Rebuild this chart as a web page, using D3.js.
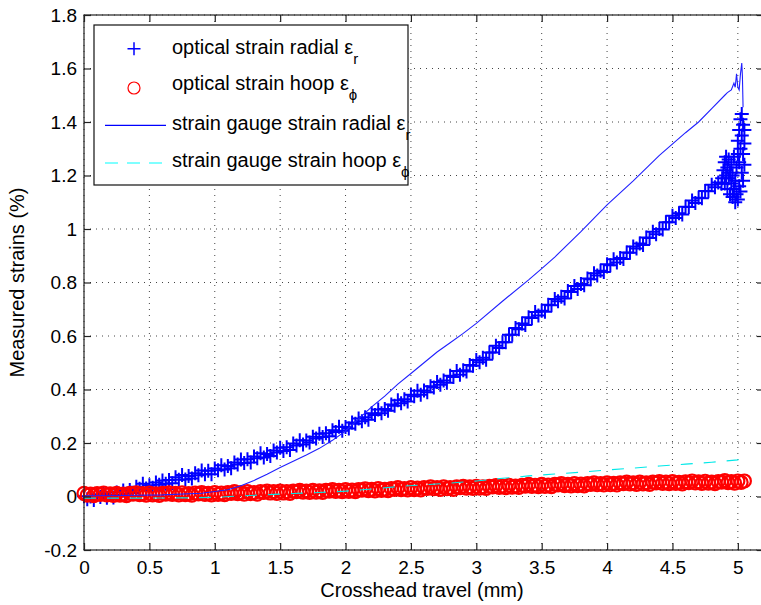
<!DOCTYPE html>
<html>
<head>
<meta charset="utf-8">
<script src="https://cdn.jsdelivr.net/npm/d3@7"></script>
<style>
  body { margin: 0; background: #fff; }
  svg text { font-family: Arial, "Liberation Sans", Helvetica, sans-serif; fill: #000; }
</style>
</head>
<body>
<div id="chart"></div>
<script>
// optical measurements (DIC), crosshead travel in mm
const opticalTravel = [
  0, 0.025, 0.05, 0.075, 0.1, 0.125, 0.15, 0.175, 0.2, 0.225, 0.25, 0.275, 0.3, 0.325, 0.35, 0.375, 0.4, 0.425, 0.45, 0.475,
  0.5, 0.525, 0.55, 0.575, 0.6, 0.625, 0.65, 0.675, 0.7, 0.725, 0.75, 0.775, 0.8, 0.825, 0.85, 0.875, 0.9, 0.925, 0.95, 0.975,
  1, 1.025, 1.05, 1.075, 1.1, 1.125, 1.15, 1.175, 1.2, 1.225, 1.25, 1.275, 1.3, 1.325, 1.35, 1.375, 1.4, 1.425, 1.45, 1.475,
  1.5, 1.525, 1.55, 1.575, 1.6, 1.625, 1.65, 1.675, 1.7, 1.725, 1.75, 1.775, 1.8, 1.825, 1.85, 1.875, 1.9, 1.925, 1.95, 1.975,
  2, 2.025, 2.05, 2.075, 2.1, 2.125, 2.15, 2.175, 2.2, 2.225, 2.25, 2.275, 2.3, 2.325, 2.35, 2.375, 2.4, 2.425, 2.45, 2.475,
  2.5, 2.525, 2.55, 2.575, 2.6, 2.625, 2.65, 2.675, 2.7, 2.725, 2.75, 2.775, 2.8, 2.825, 2.85, 2.875, 2.9, 2.925, 2.95, 2.975,
  3, 3.025, 3.05, 3.075, 3.1, 3.125, 3.15, 3.175, 3.2, 3.225, 3.25, 3.275, 3.3, 3.325, 3.35, 3.375, 3.4, 3.425, 3.45, 3.475,
  3.5, 3.525, 3.55, 3.575, 3.6, 3.625, 3.65, 3.675, 3.7, 3.725, 3.75, 3.775, 3.8, 3.825, 3.85, 3.875, 3.9, 3.925, 3.95, 3.975,
  4, 4.025, 4.05, 4.075, 4.1, 4.125, 4.15, 4.175, 4.2, 4.225, 4.25, 4.275, 4.3, 4.325, 4.35, 4.375, 4.4, 4.425, 4.45, 4.475,
  4.5, 4.525, 4.55, 4.575, 4.6, 4.625, 4.65, 4.675, 4.7, 4.725, 4.75, 4.775, 4.8, 4.825, 4.85, 4.875, 4.9, 4.925, 4.95, 4.975,
  5, 5.025, 5.05];

// radial strain (%), read up to 4.875 mm
const opticalRadial = [
  0.001, -0.0105, 0, -0.013, 0.008, -0.002, 0.012, -0.005, 0.006, -0.004, 0.015, 0.006, 0.022, 0.01, 0.024, 0.013, 0.036, 0.029, 0.048, 0.03,
  0.042, 0.0325, 0.052, 0.0435, 0.06, 0.048, 0.062, 0.05, 0.072, 0.063, 0.08, 0.0635, 0.077, 0.0675, 0.087, 0.0795, 0.097, 0.0835, 0.096, 0.0835,
  0.105, 0.098, 0.117, 0.1005, 0.114, 0.106, 0.127, 0.12, 0.138, 0.1255, 0.139, 0.1275, 0.15, 0.143, 0.162, 0.1455, 0.159, 0.151, 0.172, 0.1645,
  0.182, 0.17, 0.184, 0.174, 0.198, 0.191, 0.21, 0.1945, 0.209, 0.2015, 0.223, 0.2165, 0.235, 0.2225, 0.236, 0.225, 0.248, 0.2415, 0.261, 0.2455,
  0.26, 0.254, 0.277, 0.272, 0.292, 0.281, 0.296, 0.2865, 0.311, 0.305, 0.325, 0.311, 0.327, 0.321, 0.344, 0.3395, 0.36, 0.349, 0.364, 0.355,
  0.38, 0.3745, 0.395, 0.3805, 0.396, 0.3895, 0.412, 0.4075, 0.428, 0.418, 0.434, 0.4255, 0.451, 0.447, 0.469, 0.4555, 0.472, 0.4675, 0.492, 0.4885,
  0.51, 0.5015, 0.519, 0.5115, 0.538, 0.538, 0.564, 0.5555, 0.577, 0.5765, 0.605, 0.605, 0.63, 0.6255, 0.647, 0.6415, 0.67, 0.667, 0.69, 0.677,
  0.694, 0.691, 0.717, 0.715, 0.738, 0.7295, 0.747, 0.7405, 0.768, 0.7645, 0.787, 0.7755, 0.794, 0.79, 0.815, 0.8125, 0.835, 0.8265, 0.844, 0.839,
  0.868, 0.8645, 0.887, 0.8745, 0.892, 0.8875, 0.912, 0.911, 0.935, 0.9275, 0.946, 0.94, 0.968, 0.966, 0.99, 0.98, 1, 0.998, 1.025, 1.025,
  1.05, 1.0415, 1.059, 1.054, 1.083, 1.082, 1.107, 1.097, 1.117, 1.115, 1.142, 1.141, 1.165, 1.1565, 1.174, 1.169];

// hoop strain (%)
const opticalHoop = [
  0.012, 0.005, 0.009, 0.003, 0.011, 0.008, 0.013, 0.006, 0.01, 0.004, 0.012, 0.005, 0.009, 0.003, 0.012, 0.009, 0.014, 0.007, 0.011, 0.005,
  0.013, 0.006, 0.01, 0.004, 0.012, 0.009, 0.014, 0.008, 0.012, 0.006, 0.014, 0.007, 0.011, 0.005, 0.013, 0.01, 0.015, 0.008, 0.012, 0.006,
  0.015, 0.008, 0.013, 0.007, 0.015, 0.012, 0.018, 0.011, 0.015, 0.009, 0.018, 0.011, 0.015, 0.009, 0.018, 0.015, 0.02, 0.013, 0.018, 0.012,
  0.02, 0.013, 0.018, 0.012, 0.02, 0.018, 0.023, 0.016, 0.02, 0.015, 0.023, 0.016, 0.021, 0.015, 0.023, 0.02, 0.026, 0.019, 0.023, 0.018,
  0.026, 0.019, 0.024, 0.018, 0.026, 0.024, 0.029, 0.022, 0.027, 0.021, 0.03, 0.023, 0.027, 0.022, 0.03, 0.027, 0.033, 0.026, 0.03, 0.025,
  0.033, 0.026, 0.031, 0.025, 0.033, 0.03, 0.036, 0.029, 0.033, 0.027, 0.036, 0.029, 0.033, 0.027, 0.036, 0.033, 0.038, 0.031, 0.036, 0.03,
  0.038, 0.031, 0.036, 0.03, 0.038, 0.036, 0.041, 0.034, 0.039, 0.033, 0.042, 0.035, 0.039, 0.034, 0.042, 0.039, 0.045, 0.038, 0.042, 0.037,
  0.045, 0.038, 0.043, 0.037, 0.045, 0.043, 0.048, 0.041, 0.045, 0.04, 0.048, 0.041, 0.046, 0.04, 0.048, 0.045, 0.051, 0.044, 0.048, 0.043,
  0.051, 0.044, 0.049, 0.043, 0.051, 0.048, 0.054, 0.047, 0.051, 0.045, 0.054, 0.047, 0.051, 0.045, 0.054, 0.051, 0.056, 0.049, 0.054, 0.048,
  0.056, 0.049, 0.053, 0.047, 0.055, 0.052, 0.058, 0.051, 0.055, 0.049, 0.057, 0.05, 0.054, 0.048, 0.056, 0.054, 0.059, 0.052, 0.056, 0.05,
  0.058, 0.053, 0.058];

// scattered radial readings just before failure
const radialEndTravel = [4.88, 4.89, 4.9, 4.9, 4.91, 4.91, 4.92, 4.92, 4.93, 4.93, 4.94, 4.94, 4.95, 4.95, 4.96, 4.96, 4.97, 4.97, 4.98, 4.98,
  4.99, 4.99, 5, 5, 5, 5.01, 5.01, 5.01, 5.02, 5.02, 5.02, 5.03, 5.03, 5.03, 5.04, 5.04, 5.04, 5.05, 5.05, 5.05];
const radialEndStrain = [1.19, 1.22, 1.17, 1.25, 1.2, 1.27, 1.15, 1.23, 1.19, 1.26, 1.13, 1.21, 1.17, 1.24, 1.12, 1.2, 1.15, 1.27, 1.1, 1.18,
  1.13, 1.23, 1.11, 1.28, 1.33, 1.16, 1.37, 1.25, 1.3, 1.14, 1.41, 1.21, 1.35, 1.43, 1.18, 1.28, 1.39, 1.32, 1.24, 1.37];

// strain gauge readings
const gaugeRadialTravel = [0, 0.3, 0.6, 0.9, 1.1, 1.2, 1.3, 1.4, 1.5, 1.6, 1.7, 1.8, 1.9, 2, 2.1, 2.2, 2.3, 2.4, 2.5, 2.6, 2.7, 2.8, 2.9, 3,
  3.2, 3.4, 3.5, 3.6, 3.8, 4, 4.2, 4.4, 4.6, 4.7, 4.8, 4.9, 4.92, 4.95, 4.97, 4.98, 4.99, 5, 5.01, 5.02, 5.03, 5.035, 5.04];
const gaugeRadial = [0.003, 0.004, 0.006, 0.012, 0.025, 0.04, 0.06, 0.083, 0.108, 0.132, 0.155, 0.18, 0.21, 0.245, 0.29, 0.335, 0.375, 0.42, 0.46, 0.5, 0.54, 0.575, 0.61, 0.647,
  0.73, 0.81, 0.852, 0.895, 0.99, 1.09, 1.18, 1.275, 1.36, 1.4, 1.45, 1.5, 1.51, 1.52, 1.545, 1.53, 1.58, 1.53, 1.52, 1.58, 1.62, 1.57, 1.455];

const gaugeHoopTravel = [0, 0.4, 0.8, 1, 1.2, 1.4, 1.6, 1.8, 2, 2.2, 2.4, 2.6, 2.8, 3, 3.2, 3.4, 3.6, 3.8, 4, 4.2, 4.4, 4.6, 4.8, 5, 5.04];
const gaugeHoop = [-0.006, -0.006, -0.005, -0.003, 0.002, 0.007, 0.011, 0.015, 0.02, 0.028, 0.037, 0.044, 0.05, 0.058, 0.068, 0.077, 0.084, 0.091, 0.099, 0.106, 0.114, 0.121, 0.128, 0.137, 0.147];

const xTicks = [0, 0.5, 1, 1.5, 2, 2.5, 3, 3.5, 4, 4.5, 5];
const xTickLabels = ['0', '0.5', '1', '1.5', '2', '2.5', '3', '3.5', '4', '4.5', '5'];
const yTicks = [-0.2, 0, 0.2, 0.4, 0.6, 0.8, 1, 1.2, 1.4, 1.6, 1.8];
const yTickLabels = ['-0.2', '0', '0.2', '0.4', '0.6', '0.8', '1', '1.2', '1.4', '1.6', '1.8'];

const W = 761, H = 605;
const plotLeft = 84, plotRight = 764, plotTop = 15, plotBottom = 550;

const svg = d3.select('#chart').append('svg')
  .attr('width', W)
  .attr('height', H);

const x = d3.scaleLinear().domain([0, 5.2]).range([plotLeft, plotRight]);
const y = d3.scaleLinear().domain([-0.2, 1.8]).range([plotBottom, plotTop]);

// dotted grid
svg.append('g').selectAll('line')
  .data(xTicks)
  .enter().append('line')
  .attr('x1', d => x(d)).attr('x2', d => x(d))
  .attr('y1', plotTop).attr('y2', plotBottom)
  .attr('stroke', '#444').attr('stroke-width', 1)
  .attr('stroke-dasharray', '1,5');

svg.append('g').selectAll('line')
  .data(yTicks)
  .enter().append('line')
  .attr('x1', plotLeft).attr('x2', plotRight)
  .attr('y1', d => y(d)).attr('y2', d => y(d))
  .attr('stroke', '#444').attr('stroke-width', 1)
  .attr('stroke-dasharray', '1,5');

// optical radial: plus markers
const radialPts = opticalRadial.map((v, i) => [opticalTravel[i], v])
  .concat(radialEndTravel.map((t, i) => [t, radialEndStrain[i]]));
svg.append('g')
  .selectAll('path')
  .data(radialPts)
  .enter().append('path')
  .attr('d', d => `M${x(d[0]) - 7},${y(d[1])}h14M${x(d[0])},${y(d[1]) - 7}v14`)
  .attr('stroke', '#0000ff')
  .attr('stroke-width', 2)
  .attr('fill', 'none');

// optical hoop: circle markers
svg.append('g')
  .selectAll('circle')
  .data(opticalHoop)
  .enter().append('circle')
  .attr('cx', (d, i) => x(opticalTravel[i]))
  .attr('cy', d => y(d))
  .attr('r', 6.5)
  .attr('fill', 'none')
  .attr('stroke', '#ff0000')
  .attr('stroke-width', 2.2);

// strain gauge lines
const line = d3.line().x(d => x(d[0])).y(d => y(d[1]));

svg.append('path')
  .datum(gaugeRadialTravel.map((t, i) => [t, gaugeRadial[i]]))
  .attr('d', line)
  .attr('fill', 'none')
  .attr('stroke', '#2020ff')
  .attr('stroke-width', 1.1);

svg.append('path')
  .datum(gaugeHoopTravel.map((t, i) => [t, gaugeHoop[i]]))
  .attr('d', line)
  .attr('fill', 'none')
  .attr('stroke', '#00e8e8')
  .attr('stroke-width', 1.1)
  .attr('stroke-dasharray', '12,11');

// axes box and ticks
svg.append('rect')
  .attr('x', plotLeft).attr('y', plotTop)
  .attr('width', plotRight - plotLeft).attr('height', plotBottom - plotTop)
  .attr('fill', 'none')
  .attr('stroke', '#222')
  .attr('stroke-width', 1.2);

const xAxis = svg.append('g')
  .attr('transform', `translate(0,${plotBottom})`)
  .call(d3.axisBottom(x).tickValues(xTicks).tickFormat((d, i) => xTickLabels[i]).tickSize(-7).tickPadding(11));
const xTop = svg.append('g')
  .attr('transform', `translate(0,${plotTop})`)
  .call(d3.axisTop(x).tickValues(xTicks).tickFormat('').tickSize(-7));
const yAxis = svg.append('g')
  .attr('transform', `translate(${plotLeft},0)`)
  .call(d3.axisLeft(y).tickValues(yTicks).tickFormat((d, i) => yTickLabels[i]).tickSize(-7).tickPadding(7));
const yRight = svg.append('g')
  .attr('transform', `translate(${plotRight},0)`)
  .call(d3.axisRight(y).tickValues(yTicks).tickFormat('').tickSize(-7));

[xAxis, xTop, yAxis, yRight].forEach(g => {
  g.select('.domain').remove();
  g.selectAll('.tick line').attr('stroke', '#222').attr('stroke-width', 1.2);
  g.selectAll('.tick text').attr('font-size', 19).attr('font-family', 'Arial, "Liberation Sans", sans-serif').attr('fill', '#000');
});

// axis titles
svg.append('text')
  .attr('x', (plotLeft + 760) / 2)
  .attr('y', 597)
  .attr('text-anchor', 'middle')
  .attr('font-size', 20)
  .text('Crosshead travel (mm)');

svg.append('text')
  .attr('transform', `translate(24,${(plotTop + plotBottom) / 2}) rotate(-90)`)
  .attr('text-anchor', 'middle')
  .attr('font-size', 20)
  .text('Measured strains (%)');

// legend
const legend = svg.append('g');
legend.append('rect')
  .attr('x', 94).attr('y', 25)
  .attr('width', 314).attr('height', 160)
  .attr('fill', '#fff')
  .attr('stroke', '#111')
  .attr('stroke-width', 1.2);

const legendItems = [
  { label: 'optical strain radial ', sub: 'r', mark: 48.7, base: 54 },
  { label: 'optical strain hoop ', sub: 'ϕ', mark: 88, base: 89.7 },
  { label: 'strain gauge strain radial ', sub: 'r', mark: 125.3, base: 129.7 },
  { label: 'strain gauge strain hoop ', sub: 'ϕ', mark: 163, base: 167.3 }
];

legend.append('path')
  .attr('d', `M${134 - 6.5},${legendItems[0].mark}h13M134,${legendItems[0].mark - 6.5}v13`)
  .attr('stroke', '#0000ff').attr('stroke-width', 1.5).attr('fill', 'none');
legend.append('circle')
  .attr('cx', 134).attr('cy', legendItems[1].mark).attr('r', 6)
  .attr('fill', 'none').attr('stroke', '#ff0000').attr('stroke-width', 1.2);
legend.append('line')
  .attr('x1', 105).attr('x2', 166)
  .attr('y1', legendItems[2].mark).attr('y2', legendItems[2].mark)
  .attr('stroke', '#0000ff').attr('stroke-width', 1.2);
legend.append('line')
  .attr('x1', 105).attr('x2', 166)
  .attr('y1', legendItems[3].mark).attr('y2', legendItems[3].mark)
  .attr('stroke', '#00ffff').attr('stroke-width', 1.2)
  .attr('stroke-dasharray', '13,9');

legendItems.forEach(item => {
  const t = legend.append('text')
    .attr('x', 172)
    .attr('y', item.base)
    .attr('font-size', 20);
  t.append('tspan').text(item.label);
  t.append('tspan').text('ε');
  t.append('tspan').attr('dy', 10).attr('font-size', 15).text(item.sub);
});
</script>
</body>
</html>
